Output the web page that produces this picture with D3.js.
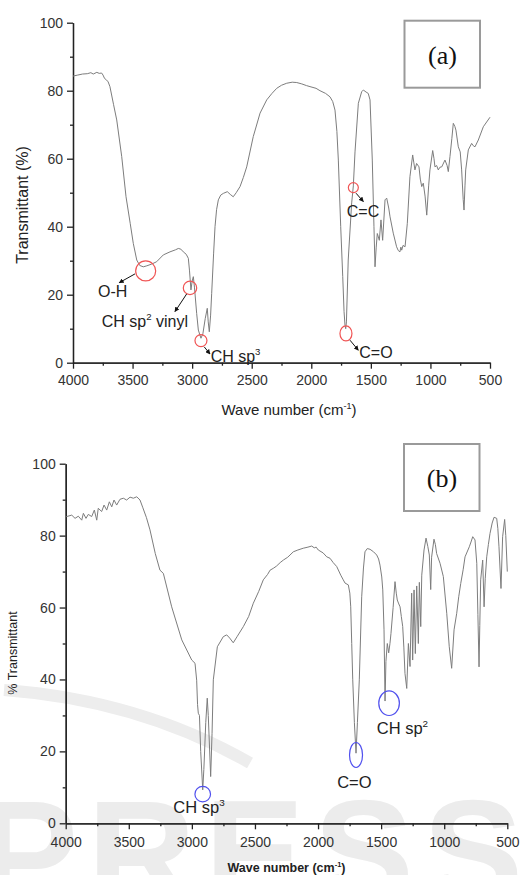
<!DOCTYPE html>
<html>
<head>
<meta charset="utf-8">
<script src="https://cdn.jsdelivr.net/npm/d3@7"></script>
<style>
  body { margin: 0; background: #fff; }
  svg { display: block; font-family: "Liberation Sans", Arial, sans-serif; }
</style>
</head>
<body>
<div id="chart"></div>
<script>
// spectrum (a)
let waveA = [4000,3960,3920,3880,3850,3830,3800,3780,3760,3748,3735,3720,3705,3690,3660,3633,3591,3555,3520,3494,3465,3440,3410,3380,3340,3298,3242,3186,3140,3116,3095,3074,3050,3032,3022,3010,3000,2990,2980,2962,2948,2926,2910,2890,2873,2865,2856,2845,2836,2820,2808,2795,2780,2760,2738,2705,2680,2655,2630,2598,2570,2542,2487,2430,2374,2330,2290,2250,2206,2160,2122,2080,2040,2011,1960,1927,1880,1843,1820,1801,1785,1773,1753,1736,1725,1717,1711,1705,1690,1661,1647,1633,1605,1577,1563,1540,1522,1507,1488,1474,1465,1455,1446,1437,1429,1415,1401,1381,1367,1350,1339,1312,1284,1270,1256,1248,1241,1230,1213,1194,1172,1149,1140,1130,1116,1096,1085,1073,1060,1045,1031,1015,1004,981,970,962,948,934,920,905,878,860,850,836,820,808,795,786,766,750,738,725,718,710,704,682,654,640,626,598,556,500];
let transA = [84.3,84.6,84.9,85.0,85.3,84.9,85.4,85.1,85.2,84.6,83.6,83.2,82.6,81.2,76,71.4,60.6,48.8,41,35.1,30.2,28.6,28.2,28.5,29.0,29.7,31.7,32.6,33.2,33.6,33.4,32.6,31.9,30.7,27,21.4,24,25.3,22,14.5,9.6,7.2,8.5,13,16,12,9.1,14,20.4,32,40,45,47.9,49.3,49.8,50.3,49.5,48.8,50,51.8,54.5,57.6,66.5,73.4,77.3,79.2,80.7,81.6,82.2,82.5,82.4,82.0,81.5,81.2,80.7,80.0,79.2,78.2,76.8,74.3,68,59.6,40,25.3,15,11,10,12,30.2,47,52,62,76.3,79.7,80.2,79.6,79.2,77.3,59.6,40,28.2,34,38,37,36,42,36,47.9,48.4,45.5,42.9,38.1,34.1,33,32.6,34,33.1,34.5,34.1,41,54.7,61.1,59,56.7,58.6,57.6,54,51.8,52.8,49,43.4,52,56.7,62.4,60,57.6,58,56.7,57.5,57.6,59.6,58,56.2,60.6,66,70.4,69.5,68.4,63.5,62,56.7,48,44.9,52,56.7,62.6,64.5,63.8,63.5,65.5,69.4,72.2];

// spectrum (b)
let waveB = [4000,3992,3952,3926,3900,3873,3860,3839,3821,3794,3773,3754,3742,3715,3696,3675,3654,3635,3617,3596,3570,3543,3517,3490,3464,3437,3411,3390,3360,3332,3290,3253,3226,3160,3080,3001,2975,2962,2955,2949,2940,2930,2914,2905,2890,2878,2870,2851,2840,2830,2798,2751,2724,2700,2672,2640,2592,2550,2513,2470,2434,2400,2380,2355,2330,2300,2275,2240,2196,2160,2117,2080,2050,2030,2015,1998,1960,1931,1905,1880,1852,1820,1800,1786,1760,1748,1741,1733,1725,1712,1699,1688,1673,1654,1640,1628,1610,1588,1560,1535,1520,1509,1495,1487,1477,1469,1462,1451,1440,1430,1422,1405,1390,1380,1372,1360,1350,1340,1329,1320,1311,1297,1284,1271,1258,1250,1239,1229,1218,1205,1197,1186,1178,1160,1144,1130,1118,1107,1100,1081,1070,1060,1033,1007,980,960,941,922,901,885,869,850,835,801,785,774,756,742,733,724,718,711,695,684,675,663,650,637,620,605,584,575,566,550,537,521,512,500];
let transB = [85.4,85.3,85.7,84.8,85.4,84.3,86.2,84.8,85.9,85.3,87.1,84.3,87.6,86.7,88.5,87.1,89.4,88.0,89.9,88.5,90.1,90.4,89.9,90.7,90.4,90.8,89.9,87.9,85,81.6,75,70.4,69.5,60.2,51,45.4,44.5,39.8,33,30.6,30,20,9.3,15,28,34.8,30,13,25,39.9,49.1,51.9,52.4,51.5,50.2,52,54.7,57.5,61.2,64.5,67.7,69.2,70.4,70.9,71.5,72.5,73.2,74,75.5,76,76.5,76.8,77.1,76.6,76.8,76,75.2,74.1,73.7,72.5,71.4,69,67.7,66.8,66.3,64,60.2,50,39.9,28,19.5,28,39.9,63,71,75.5,76.4,76.2,75.5,74.6,73.5,71.8,68.5,64.9,53.8,34,45,50,47.4,50,52.8,60,67.2,64,62.1,61,60.2,57.5,54.7,49,41.7,37.5,50,43.6,64,45.4,64.9,47.2,66,50,67,54.7,69,76,79.3,77,74.6,65,74,79,77.5,75,72.3,68.6,58.4,49.1,43.1,53.8,58.4,63,66.7,70.5,74.1,76.9,78.5,79.7,78.8,72.3,58,43.5,55,67.7,73.2,60.2,68,74.1,77.5,80.6,83.5,85.1,84.8,82,76.9,65.3,79.7,84.5,80,70];

let xMajor = [4000,3500,3000,2500,2000,1500,1000,500];
let xMinor = [3750,3250,2750,2250,1750,1250,750];
let yMajor = [0,20,40,60,80,100];
let yMinor = [10,30,50,70,90];

let noteWaveA = [3390, 3018, 2926, 1709, 1647];
let noteTransA = [27, 22, 6.5, 8.6, 51.5];
let noteTextA = ["O-H", "CH sp^{2} vinyl", "CH sp^{3}", "C=O", "C=C"];

let noteWaveB = [2914, 1699, 1437];
let noteTransB = [8.1, 19, 33.4];
let noteTextB = ["CH sp^{3}", "C=O", "CH sp^{2}"];

let W = 521, H = 875;

let svg = d3.select("#chart").append("svg")
    .attr("width", W)
    .attr("height", H);

svg.append("defs").append("marker")
    .attr("id", "head")
    .attr("viewBox", "0 0 8 8")
    .attr("refX", 7).attr("refY", 4)
    .attr("markerWidth", 5).attr("markerHeight", 5)
    .attr("orient", "auto")
  .append("path")
    .attr("d", "M0,0 L8,4 L0,8 Z")
    .attr("fill", "#111");

// faint publisher watermark behind (b)
svg.append("path")
    .attr("d", "M4,690 Q140,700 250,763")
    .attr("fill", "none")
    .attr("stroke", "#ededed")
    .attr("stroke-width", 12);
svg.append("text")
    .attr("x", -22).attr("y", 905)
    .attr("font-size", 150)
    .attr("font-weight", "bold")
    .attr("fill", "#ececec")
    .attr("textLength", 545)
    .attr("lengthAdjust", "spacing")
    .text("PRESS");

// text with ^{..} superscripts
let richText = (sel, str, size) => {
  let parts = str.split(/\^\{([^}]*)\}/);
  parts.forEach((p, i) => {
    if (i % 2 === 1)
      sel.append("tspan").attr("dy", -size * 0.42).attr("font-size", size * 0.6).text(p);
    else if (i > 0)
      sel.append("tspan").attr("dy", size * 0.42).text(p);
    else
      sel.append("tspan").text(p);
  });
};

let panel = (cfg) => {
  let x = d3.scaleLinear().domain([4000, 500]).range([cfg.left, cfg.right]);
  let y = d3.scaleLinear().domain([0, 100]).range([cfg.bottom, cfg.top]);
  let g = svg.append("g");

  let style = (a) => {
    a.selectAll("path, line").attr("stroke", "#222").attr("stroke-width", 1.3);
    a.selectAll("text")
      .attr("font-family", "Liberation Sans, Arial, sans-serif")
      .attr("font-size", 14)
      .attr("fill", "#333");
  };

  g.append("g")
      .attr("transform", `translate(0, ${ cfg.bottom })`)
      .call(d3.axisBottom(x).tickValues(xMinor).tickSize(3).tickFormat("").tickSizeOuter(0))
      .call(style);
  g.append("g")
      .attr("transform", `translate(0, ${ cfg.bottom })`)
      .call(d3.axisBottom(x).tickValues(xMajor).tickSize(6).tickPadding(cfg.xPad)
        .tickFormat(d3.format("d")).tickSizeOuter(0))
      .call(style);
  g.append("g")
      .attr("transform", `translate(${ cfg.left }, 0)`)
      .call(d3.axisLeft(y).tickValues(yMinor).tickSize(3).tickFormat("").tickSizeOuter(0))
      .call(style);
  g.append("g")
      .attr("transform", `translate(${ cfg.left }, 0)`)
      .call(d3.axisLeft(y).tickValues(yMajor).tickSize(6).tickPadding(4)
        .tickFormat(d3.format("d")).tickSizeOuter(0))
      .call(style);

  let line = d3.line()
      .x((d) => x(d[0]))
      .y((d) => y(d[1]));

  g.append("path")
      .datum(d3.zip(cfg.wave, cfg.trans))
      .attr("d", line)
      .attr("fill", "none")
      .attr("stroke", "#7d7d7d")
      .attr("stroke-width", 1)
      .attr("stroke-linejoin", "round");

  // axis titles
  let yt = g.append("text")
      .attr("transform", `translate(${ cfg.yTitle[0] }, ${ cfg.yTitle[1] }) rotate(-90)`)
      .attr("text-anchor", "middle")
      .attr("dy", "0.35em")
      .attr("font-size", cfg.yTitleSize)
      .attr("fill", "#222");
  richText(yt, cfg.yLabel, cfg.yTitleSize);

  let xt = g.append("text")
      .attr("x", cfg.xTitle[0])
      .attr("y", cfg.xTitle[1])
      .attr("text-anchor", "middle")
      .attr("font-size", cfg.xTitleSize)
      .attr("font-weight", cfg.xTitleWeight)
      .attr("fill", "#222");
  richText(xt, "Wave number (cm^{-1})", cfg.xTitleSize);

  // (a)/(b) box
  g.append("rect")
      .attr("x", cfg.box[0]).attr("y", cfg.box[1])
      .attr("width", 75.5).attr("height", 67)
      .attr("fill", "#fff")
      .attr("stroke", "#9a9a9a")
      .attr("stroke-width", 2);
  g.append("text")
      .attr("x", cfg.box[0] + 38)
      .attr("y", cfg.box[1] + 43)
      .attr("text-anchor", "middle")
      .attr("font-family", "Liberation Serif, 'Times New Roman', serif")
      .attr("font-size", 26)
      .attr("fill", "#111")
      .text(cfg.tag);

  // band annotations
  cfg.notes.forEach((n, i) => {
    let L = cfg.layout[i];
    let cx = x(n.wave), cy = y(n.trans);
    g.append("ellipse")
        .attr("cx", cx).attr("cy", cy)
        .attr("rx", L.rx).attr("ry", L.ry)
        .attr("fill", "none")
        .attr("stroke", cfg.noteColor)
        .attr("stroke-width", 1.2);
    if (L.a)
      g.append("line")
          .attr("x1", cx + L.a[0]).attr("y1", cy + L.a[1])
          .attr("x2", cx + L.a[2]).attr("y2", cy + L.a[3])
          .attr("stroke", "#111")
          .attr("stroke-width", 1)
          .attr("marker-end", "url(#head)");
    let t = g.append("text")
        .attr("x", cx + L.tx)
        .attr("y", cy + L.ty)
        .attr("text-anchor", L.anchor || "start")
        .attr("font-size", cfg.noteSize)
        .attr("fill", "#222");
    richText(t, n.text, cfg.noteSize);
  });
};

panel({
  left: 73, right: 490, top: 22.7, bottom: 362.7, xPad: 6,
  wave: waveA, trans: transA,
  yLabel: "Transmittant (%)", yTitle: [22, 205], yTitleSize: 16,
  xTitle: [289, 415], xTitleSize: 15, xTitleWeight: "normal",
  box: [404.5, 20.7], tag: "(a)",
  noteColor: "#f05454", noteSize: 16,
  notes: noteTextA.map((t, i) => ({ text: t, wave: noteWaveA[i], trans: noteTransA[i] })),
  layout: [
    { rx: 10, ry: 10, tx: -47.7, ty: 25.8, a: [-10.7, 3, -26.4, 11.8] },
    { rx: 6.7, ry: 6.7, tx: -88.3, ty: 38.7, a: [-3.3, 6, -15, 23.7] },
    { rx: 6, ry: 6, tx: 9.7, ty: 21.3, a: [3.3, 6.3, 9, 13.3] },
    { rx: 6, ry: 7.5, tx: 13.3, ty: 25, a: [4, 6.7, 12.3, 16.7] },
    { rx: 5, ry: 5, tx: -6.6, ty: 29, a: [2.7, 5.6, 10, 14] }
  ]
});

panel({
  left: 65.7, right: 507.3, top: 463.7, bottom: 823.3, xPad: 8,
  wave: waveB, trans: transB,
  yLabel: "% Transmittant", yTitle: [13, 653], yTitleSize: 12.5,
  xTitle: [286.5, 872], xTitleSize: 12.5, xTitleWeight: "bold",
  box: [404, 444], tag: "(b)",
  noteColor: "#5050ee", noteSize: 16.5,
  notes: noteTextB.map((t, i) => ({ text: t, wave: noteWaveB[i], trans: noteTransB[i] })),
  layout: [
    { rx: 7.8, ry: 7.8, tx: -29.4, ty: 18.7 },
    { rx: 6.5, ry: 12.5, tx: -1.7, ty: 33.3, anchor: "middle" },
    { rx: 10.3, ry: 12.3, tx: -12.3, ty: 30.7 }
  ]
});
</script>
</body>
</html>
